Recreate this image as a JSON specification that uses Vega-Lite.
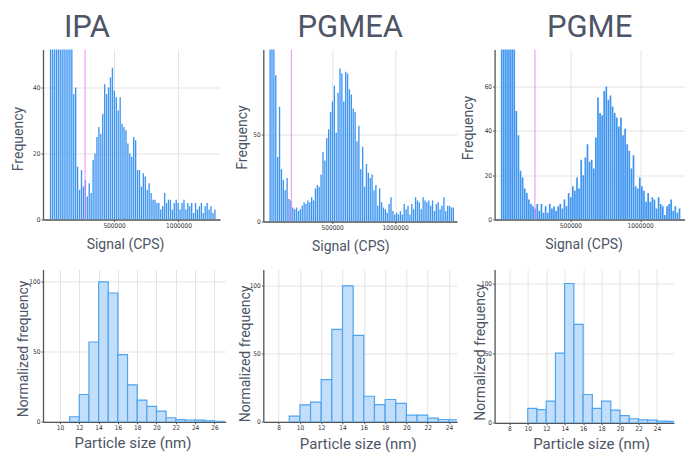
{
"$schema": "https://vega.github.io/schema/vega-lite/v6.json",
"autosize": {"type": "pad"},
"padding": {"left": 11, "top": 11.5, "right": 0, "bottom": 0},
"background": "white",
"config": {
  "view": {"stroke": null},
  "font": "Roboto",
  "title": {"font": "Roboto", "fontSize": 31, "fontWeight": "normal", "color": "#4d5566", "anchor": "middle", "frame": "group", "baseline": "alphabetic", "offset": 5.2},
  "axis": {"labelFont": "DejaVu Sans Condensed", "labelFontSize": 6.5, "labelColor": "#333333", "tickSize": 2, "tickColor": "#555555", "domainColor": "#555555", "domainWidth": 1.3, "gridColor": "#e4e4e4", "labelPadding": 1, "titleFont": "Roboto", "titleFontSize": 14, "titleFontWeight": "normal", "titleColor": "#4d5566"},
  "axisX": {"titleBaseline": "alphabetic", "titleAlign": "center", "titleAngle": 0},
  "axisY": {"titleBaseline": "middle", "titleAlign": "center", "titleAngle": 270}
},
"datasets": {
  "ipa": [{"c":7500,"f":80},{"c":22500,"f":95},{"c":37500,"f":110},{"c":52500,"f":120},{"c":67500,"f":105},{"c":82500,"f":95},{"c":97500,"f":90},{"c":112500,"f":85},{"c":127500,"f":75},{"c":142500,"f":70},{"c":157500,"f":62},{"c":172500,"f":56},{"c":187500,"f":38},{"c":202500,"f":40},{"c":217500,"f":16},{"c":232500,"f":9},{"c":247500,"f":15},{"c":262500,"f":10},{"c":277500,"f":12},{"c":292500,"f":7},{"c":307500,"f":11},{"c":322500,"f":8},{"c":337500,"f":18},{"c":352500,"f":20},{"c":367500,"f":25},{"c":382500,"f":28},{"c":397500,"f":26},{"c":412500,"f":32},{"c":427500,"f":41},{"c":442500,"f":38},{"c":457500,"f":40},{"c":472500,"f":43},{"c":487500,"f":46},{"c":502500,"f":39},{"c":517500,"f":37},{"c":532500,"f":33},{"c":547500,"f":37},{"c":562500,"f":29},{"c":577500,"f":28},{"c":592500,"f":27},{"c":607500,"f":23},{"c":622500,"f":20},{"c":637500,"f":19},{"c":652500,"f":25},{"c":667500,"f":24},{"c":682500,"f":15},{"c":697500,"f":15},{"c":712500,"f":10},{"c":727500,"f":14},{"c":742500,"f":13},{"c":757500,"f":9},{"c":772500,"f":11},{"c":787500,"f":8},{"c":802500,"f":6},{"c":817500,"f":6},{"c":832500,"f":5},{"c":847500,"f":5},{"c":862500,"f":3},{"c":877500,"f":4},{"c":892500,"f":8},{"c":907500,"f":5},{"c":922500,"f":6},{"c":937500,"f":6},{"c":952500,"f":3},{"c":967500,"f":5},{"c":982500,"f":6},{"c":997500,"f":5},{"c":1012500,"f":3},{"c":1027500,"f":5},{"c":1042500,"f":6},{"c":1057500,"f":3},{"c":1072500,"f":5},{"c":1087500,"f":4},{"c":1102500,"f":5},{"c":1117500,"f":2},{"c":1132500,"f":5},{"c":1147500,"f":3},{"c":1162500,"f":4},{"c":1177500,"f":5},{"c":1192500,"f":2},{"c":1207500,"f":4},{"c":1222500,"f":5},{"c":1237500,"f":3},{"c":1252500,"f":4},{"c":1267500,"f":2},{"c":1282500,"f":3}],
  "pgmea": [{"c":7500,"f":140},{"c":22500,"f":160},{"c":37500,"f":130},{"c":52500,"f":84},{"c":67500,"f":37},{"c":82500,"f":66},{"c":97500,"f":30},{"c":112500,"f":24},{"c":127500,"f":18},{"c":142500,"f":25},{"c":157500,"f":13},{"c":172500,"f":12},{"c":187500,"f":8},{"c":202500,"f":7},{"c":217500,"f":8},{"c":232500,"f":6},{"c":247500,"f":7},{"c":262500,"f":9},{"c":277500,"f":11},{"c":292500,"f":10},{"c":307500,"f":12},{"c":322500,"f":11},{"c":337500,"f":14},{"c":352500,"f":12},{"c":367500,"f":19},{"c":382500,"f":21},{"c":397500,"f":20},{"c":412500,"f":27},{"c":427500,"f":40},{"c":442500,"f":35},{"c":457500,"f":48},{"c":472500,"f":53},{"c":487500,"f":63},{"c":502500,"f":69},{"c":517500,"f":78},{"c":532500,"f":51},{"c":547500,"f":74},{"c":562500,"f":88},{"c":577500,"f":85},{"c":592500,"f":69},{"c":607500,"f":86},{"c":622500,"f":85},{"c":637500,"f":76},{"c":652500,"f":73},{"c":667500,"f":65},{"c":682500,"f":63},{"c":697500,"f":46},{"c":712500,"f":55},{"c":727500,"f":30},{"c":742500,"f":43},{"c":757500,"f":20},{"c":772500,"f":33},{"c":787500,"f":28},{"c":802500,"f":25},{"c":817500,"f":27},{"c":832500,"f":18},{"c":847500,"f":21},{"c":862500,"f":9},{"c":877500,"f":19},{"c":892500,"f":11},{"c":907500,"f":8},{"c":922500,"f":7},{"c":937500,"f":5},{"c":952500,"f":10},{"c":967500,"f":14},{"c":982500,"f":6},{"c":997500,"f":4},{"c":1012500,"f":5},{"c":1027500,"f":4},{"c":1042500,"f":6},{"c":1057500,"f":4},{"c":1072500,"f":10},{"c":1087500,"f":7},{"c":1102500,"f":9},{"c":1117500,"f":4},{"c":1132500,"f":10},{"c":1147500,"f":7},{"c":1162500,"f":14},{"c":1177500,"f":12},{"c":1192500,"f":11},{"c":1207500,"f":7},{"c":1222500,"f":14},{"c":1237500,"f":12},{"c":1252500,"f":11},{"c":1267500,"f":12},{"c":1282500,"f":9},{"c":1297500,"f":12},{"c":1312500,"f":6},{"c":1327500,"f":10},{"c":1342500,"f":11},{"c":1357500,"f":7},{"c":1372500,"f":9},{"c":1387500,"f":14},{"c":1402500,"f":6},{"c":1417500,"f":9},{"c":1432500,"f":9},{"c":1447500,"f":8},{"c":1462500,"f":8}],
  "pgme": [{"c":7500,"f":150},{"c":22500,"f":170},{"c":37500,"f":160},{"c":52500,"f":140},{"c":67500,"f":120},{"c":82500,"f":100},{"c":97500,"f":80},{"c":112500,"f":49},{"c":127500,"f":38},{"c":142500,"f":22},{"c":157500,"f":19},{"c":172500,"f":14},{"c":187500,"f":12},{"c":202500,"f":9},{"c":217500,"f":7},{"c":232500,"f":6},{"c":247500,"f":5},{"c":262500,"f":7},{"c":277500,"f":4},{"c":292500,"f":7},{"c":307500,"f":3},{"c":322500,"f":6},{"c":337500,"f":3},{"c":352500,"f":7},{"c":367500,"f":5},{"c":382500,"f":6},{"c":397500,"f":4},{"c":412500,"f":6},{"c":427500,"f":7},{"c":442500,"f":5},{"c":457500,"f":9},{"c":472500,"f":6},{"c":487500,"f":12},{"c":502500,"f":10},{"c":517500,"f":15},{"c":532500,"f":13},{"c":547500,"f":19},{"c":562500,"f":14},{"c":577500,"f":27},{"c":592500,"f":20},{"c":607500,"f":28},{"c":622500,"f":34},{"c":637500,"f":26},{"c":652500,"f":27},{"c":667500,"f":23},{"c":682500,"f":37},{"c":697500,"f":55},{"c":712500,"f":48},{"c":727500,"f":47},{"c":742500,"f":58},{"c":757500,"f":60},{"c":772500,"f":54},{"c":787500,"f":56},{"c":802500,"f":51},{"c":817500,"f":48},{"c":832500,"f":46},{"c":847500,"f":42},{"c":862500,"f":46},{"c":877500,"f":38},{"c":892500,"f":41},{"c":907500,"f":34},{"c":922500,"f":31},{"c":937500,"f":23},{"c":952500,"f":29},{"c":967500,"f":15},{"c":982500,"f":14},{"c":997500,"f":19},{"c":1012500,"f":15},{"c":1027500,"f":13},{"c":1042500,"f":8},{"c":1057500,"f":12},{"c":1072500,"f":8},{"c":1087500,"f":10},{"c":1102500,"f":9},{"c":1117500,"f":5},{"c":1132500,"f":10},{"c":1147500,"f":7},{"c":1162500,"f":6},{"c":1177500,"f":2},{"c":1192500,"f":6},{"c":1207500,"f":7},{"c":1222500,"f":9},{"c":1237500,"f":4},{"c":1252500,"f":6},{"c":1267500,"f":3},{"c":1282500,"f":5}],
  "sipa": [{"a":11,"b":12,"v":3.6},{"a":12,"b":13,"v":19.5},{"a":13,"b":14,"v":57},{"a":14,"b":15,"v":100},{"a":15,"b":16,"v":92},{"a":16,"b":17,"v":48},{"a":17,"b":18,"v":26.4},{"a":18,"b":19,"v":15.5},{"a":19,"b":20,"v":11},{"a":20,"b":21,"v":7.6},{"a":21,"b":22,"v":2.9},{"a":22,"b":23,"v":1.5},{"a":23,"b":24,"v":1.3},{"a":24,"b":25,"v":1.2},{"a":25,"b":26,"v":0.6},{"a":26,"b":27,"v":0.3}],
  "spgmea": [{"a":9,"b":10,"v":4.1},{"a":10,"b":11,"v":12.5},{"a":11,"b":12,"v":14.4},{"a":12,"b":13,"v":31},{"a":13,"b":14,"v":67.9},{"a":14,"b":15,"v":100},{"a":15,"b":16,"v":63.5},{"a":16,"b":17,"v":18.8},{"a":17,"b":18,"v":12.7},{"a":18,"b":19,"v":16.4},{"a":19,"b":20,"v":13.5},{"a":20,"b":21,"v":4.9},{"a":21,"b":22,"v":4.9},{"a":22,"b":23,"v":2.7},{"a":23,"b":24,"v":1.7},{"a":24,"b":25,"v":1.5}],
  "spgme": [{"a":10,"b":11,"v":10.3},{"a":11,"b":12,"v":9.5},{"a":12,"b":13,"v":15.5},{"a":13,"b":14,"v":50},{"a":14,"b":15,"v":100},{"a":15,"b":16,"v":70.6},{"a":16,"b":17,"v":20.3},{"a":17,"b":18,"v":10.3},{"a":18,"b":19,"v":15.5},{"a":19,"b":20,"v":9.1},{"a":20,"b":21,"v":5.2},{"a":21,"b":22,"v":2.9},{"a":22,"b":23,"v":2.1},{"a":23,"b":24,"v":1.9},{"a":24,"b":25,"v":1.2},{"a":25,"b":26,"v":1.0}]
},
"columns": 3,
"align": "each",
"bounds": "flush",
"spacing": {"row": 48, "column": 37.3},
"concat": [
  {
    "width": 177, "height": 170,
    "title": {"text": "IPA", "dx": -44.5},
    "layer": [
      {"data": {"name": "ipa"},
       "mark": {"type": "bar", "width": 1.35, "color": "#3d95f1", "clip": true},
       "encoding": {
         "x": {"field": "c", "type": "quantitative", "scale": {"domain": [-12400, 1283400], "nice": false, "zero": false},
               "axis": {"title": "Signal (CPS)", "values": [500000, 1000000], "format": "d", "titleX": 82, "titleY": 28.5}},
         "y": {"field": "f", "type": "quantitative", "scale": {"domain": [0, 51.5], "nice": false},
               "axis": {"title": "Frequency", "values": [0, 20, 40], "titleX": -24.3, "titleY": 89}}
       }},
      {"data": {"values": [{"t": 275000}]},
       "mark": {"type": "rule", "color": "#f28cf2", "strokeWidth": 1},
       "encoding": {"x": {"field": "t", "type": "quantitative"}}}
    ]
  },
  {
    "width": 193.7, "height": 172,
    "title": {"text": "PGMEA", "dx": -9.85},
    "layer": [
      {"data": {"name": "pgmea"},
       "mark": {"type": "bar", "width": 1.35, "color": "#3d95f1", "clip": true},
       "encoding": {
         "x": {"field": "c", "type": "quantitative", "scale": {"domain": [-6800, 1451800], "nice": false, "zero": false},
               "axis": {"title": "Signal (CPS)", "values": [500000, 1000000], "format": "d", "titleX": 87, "titleY": 28.5}},
         "y": {"field": "f", "type": "quantitative", "scale": {"domain": [0, 98.85], "nice": false},
               "axis": {"title": "Frequency", "values": [0, 50], "titleX": -20.5, "titleY": 87.5}}
       }},
      {"data": {"values": [{"t": 176500}]},
       "mark": {"type": "rule", "color": "#f28cf2", "strokeWidth": 1},
       "encoding": {"x": {"field": "t", "type": "quantitative"}}}
    ]
  },
  {
    "width": 190, "height": 170,
    "title": {"text": "PGME", "dx": 0},
    "layer": [
      {"data": {"name": "pgme"},
       "mark": {"type": "bar", "width": 1.7, "color": "#3d95f1", "clip": true},
       "encoding": {
         "x": {"field": "c", "type": "quantitative", "scale": {"domain": [-7500, 1283000], "nice": false, "zero": false},
               "axis": {"title": "Signal (CPS)", "values": [500000, 1000000], "format": "d", "titleX": 89, "titleY": 28.5}},
         "y": {"field": "f", "type": "quantitative", "scale": {"domain": [0, 76.7], "nice": false},
               "axis": {"title": "Frequency", "values": [0, 20, 40, 60], "titleX": -25.8, "titleY": 78}}
       }},
      {"data": {"values": [{"t": 246000}]},
       "mark": {"type": "rule", "color": "#f28cf2", "strokeWidth": 1},
       "encoding": {"x": {"field": "t", "type": "quantitative"}}}
    ]
  },
  {
    "width": 182.7, "height": 152.3,
    "data": {"name": "sipa"},
    "mark": {"type": "bar", "fill": "#c2defa", "stroke": "#4ea4f0", "strokeWidth": 1.2, "clip": true},
    "encoding": {
      "x": {"field": "a", "type": "quantitative", "scale": {"domain": [8.24, 27.17], "nice": false, "zero": false},
            "axis": {"title": "Particle size (nm)", "values": [10, 12, 14, 16, 18, 20, 22, 24, 26], "titleFontSize": 15, "titleX": 89.5, "titleY": 25.5}},
      "x2": {"field": "b"},
      "y": {"field": "v", "type": "quantitative", "scale": {"domain": [0, 108.8], "nice": false},
            "axis": {"title": "Normalized frequency", "values": [0, 50, 100], "titleX": -19.2, "titleY": 79}},
      "y2": {"datum": 0}
    }
  },
  {
    "width": 193.7, "height": 152.3,
    "data": {"name": "spgmea"},
    "mark": {"type": "bar", "fill": "#c2defa", "stroke": "#4ea4f0", "strokeWidth": 1.2, "clip": true},
    "encoding": {
      "x": {"field": "a", "type": "quantitative", "scale": {"domain": [6.563, 24.75], "nice": false, "zero": false},
            "axis": {"title": "Particle size (nm)", "values": [8, 10, 12, 14, 16, 18, 20, 22, 24], "titleFontSize": 15, "titleX": 94.5, "titleY": 26.5}},
      "x2": {"field": "b"},
      "y": {"field": "v", "type": "quantitative", "scale": {"domain": [0, 112], "nice": false},
            "axis": {"title": "Normalized frequency", "values": [0, 50, 100], "titleX": -18.2, "titleY": 84}},
      "y2": {"datum": 0}
    }
  },
  {
    "width": 179.3, "height": 153.3,
    "data": {"name": "spgme"},
    "mark": {"type": "bar", "fill": "#c2defa", "stroke": "#4ea4f0", "strokeWidth": 1.2, "clip": true},
    "encoding": {
      "x": {"field": "a", "type": "quantitative", "scale": {"domain": [6.406, 25.84], "nice": false, "zero": false},
            "axis": {"title": "Particle size (nm)", "values": [8, 10, 12, 14, 16, 18, 20, 22, 24], "titleFontSize": 15, "titleX": 96.5, "titleY": 26}},
      "x2": {"field": "b"},
      "y": {"field": "v", "type": "quantitative", "scale": {"domain": [0, 110.05], "nice": false},
            "axis": {"title": "Normalized frequency", "values": [0, 50, 100], "titleX": -14.2, "titleY": 82.5}},
      "y2": {"datum": 0}
    }
  }
]
}
